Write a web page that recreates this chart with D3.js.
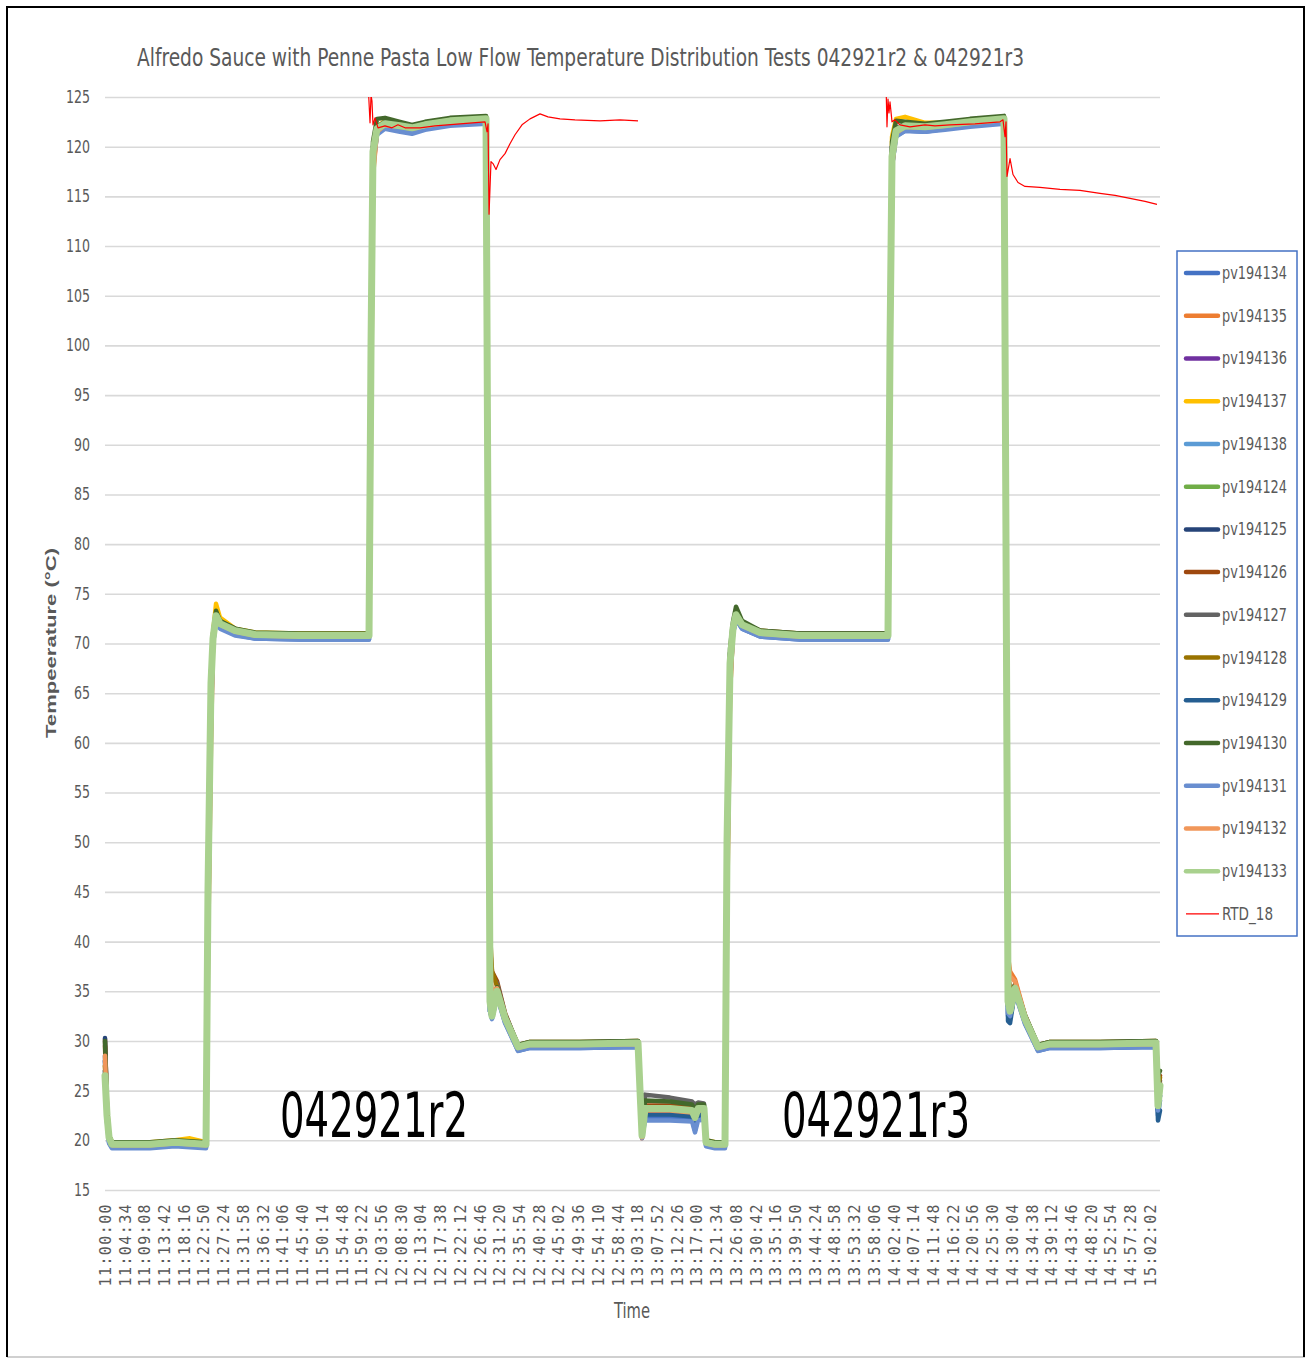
<!DOCTYPE html>
<html>
<head>
<meta charset="utf-8">
<script src="https://cdn.jsdelivr.net/npm/d3@7"></script>
<style>
  body { margin: 0; background: #fff; }
  svg { display: block; }
</style>
</head>
<body>
<svg id="chart" width="1307" height="1359"></svg>
<script>
// ---------------- DATA ----------------
const chartTitle = "Alfredo Sauce with Penne Pasta Low Flow Temperature Distribution Tests 042921r2 & 042921r3";
const yTickValues = [15,20,25,30,35,40,45,50,55,60,65,70,75,80,85,90,95,100,105,110,115,120,125];
const xTickLabels = ["11:00:00","11:04:34","11:09:08","11:13:42","11:18:16","11:22:50","11:27:24","11:31:58","11:36:32","11:41:06","11:45:40","11:50:14","11:54:48","11:59:22","12:03:56","12:08:30","12:13:04","12:17:38","12:22:12","12:26:46","12:31:20","12:35:54","12:40:28","12:45:02","12:49:36","12:54:10","12:58:44","13:03:18","13:07:52","13:12:26","13:17:00","13:21:34","13:26:08","13:30:42","13:35:16","13:39:50","13:44:24","13:48:58","13:53:32","13:58:06","14:02:40","14:07:14","14:11:48","14:16:22","14:20:56","14:25:30","14:30:04","14:34:38","14:39:12","14:43:46","14:48:20","14:52:54","14:57:28","15:02:02"];
const xStart = "11:00:00";
const xEnd = "15:04:21";

const times = ["11:00:00","11:00:28","11:00:56","11:01:37","11:04:38","11:10:25","11:16:13","11:19:41","11:23:24","11:23:51",
"11:24:33","11:25:01","11:25:43","11:26:38","11:30:07","11:34:45","11:45:10","11:54:26","12:01:09","12:01:37",
"12:02:04","12:03:00","12:04:51","12:08:20","12:11:06","12:14:07","12:19:54","12:28:15","12:28:43","12:29:10",
"12:29:38","12:30:48","12:32:39","12:35:40","12:38:26","12:50:01","13:03:27","13:03:55","13:04:23","13:05:04",
"13:10:52","13:15:58","13:16:39","13:17:21","13:18:44","13:19:12","13:21:17","13:23:36","13:24:04","13:24:46",
"13:25:27","13:26:09","13:27:32","13:31:42","13:40:58","13:52:33","14:01:21","14:01:49","14:02:17","14:03:13",
"14:05:18","14:09:56","14:14:33","14:20:21","14:28:13","14:28:41","14:29:09","14:29:37","14:30:46","14:33:05",
"14:36:06","14:38:53","14:50:28","15:03:25","15:03:53","15:04:21"];

const seriesNames = ["pv194134","pv194135","pv194136","pv194137","pv194138","pv194124","pv194125","pv194126","pv194127","pv194128","pv194129","pv194130","pv194131","pv194132","pv194133"];
const seriesColors = ["#4472C4","#ED7D31","#7030A0","#FFC000","#5B9BD5","#70AD47","#264478","#9E480E","#636363","#997300","#255E91","#43682B","#698ED0","#F1975A","#A9D18E"];

const pv194134 = [28.0,22.0,19.8,19.3,19.3,19.3,19.5,19.4,19.3,40,
62,70.0,72.3,71.6,70.9,70.5,70.4,70.4,70.4,95,
118.5,121.3,121.9,121.6,121.4,121.8,122.2,122.4,75,33.0,
32.3,34.6,31.9,29.0,29.3,29.3,29.4,24,20.3,22.3,
22.3,22.1,21.0,22.3,22.4,19.5,19.3,19.3,45,66,
71.0,72.5,71.5,70.7,70.4,70.4,70.4,95,118,121.1,
121.6,121.5,121.8,122.1,122.4,75,32.5,32.3,34.9,31.8,
29.0,29.3,29.3,29.4,22.5,24.0];
const pv194135 = [30.2,23.5,20.5,19.7,19.6,19.7,19.9,19.8,19.6,38,
60,70.2,72.9,72.1,71.3,70.9,70.8,70.8,70.8,92,
117,121.6,122.3,122.2,122.0,122.3,122.7,122.9,88,36,
34,35.4,32.6,29.5,29.8,29.8,29.9,26,20.2,22.9,
22.9,22.7,22.0,22.9,22.9,19.9,19.6,19.6,42,65,
71.2,72.9,72.0,71.1,70.8,70.8,70.8,94,118,121.5,
122.1,122.0,122.3,122.6,122.9,86,38.5,37,36.2,32.6,
29.5,29.8,29.8,29.9,24.5,25.8];
const pv194136 = [27.0,22.6,20.4,19.7,19.7,19.7,19.9,19.8,19.7,44,
65,70.6,72.9,72.1,71.4,71.0,70.9,70.9,70.9,99,
119.5,121.9,122.4,122.2,122.0,122.3,122.7,122.9,80,35,
33.5,35.1,32.4,29.5,29.8,29.8,29.9,25,20.5,23.3,
23.3,23.1,22.4,23.3,23.3,19.9,19.7,19.7,50,68,
71.6,73.0,72.0,71.2,70.9,70.9,70.9,99,119,121.7,
122.2,122.1,122.3,122.6,122.9,80,35,34,35.4,32.3,
29.5,29.8,29.8,29.9,24.0,25.4];
const pv194137 = [27.5,22.8,20.5,19.8,19.8,19.8,20.0,20.2,19.8,44,
66,71.0,74.0,72.6,71.5,71.1,71.0,71.0,71.0,101,
120,122.0,122.6,122.3,122.1,122.4,122.8,123.0,80,35,
33.5,35.2,32.5,29.6,29.9,29.9,30.0,25,20.6,23.4,
23.4,23.2,22.5,23.4,23.4,20.0,19.8,19.8,52,69,
71.8,73.3,72.1,71.3,71.0,71.0,71.0,102,121,122.8,
123.0,122.4,122.4,122.7,123.0,80,35,34,35.5,32.4,
29.6,29.9,29.9,30.0,24.5,25.6];
const pv194138 = [27.0,22.3,20.1,19.4,19.4,19.4,19.6,19.5,19.4,43,
64,70.3,72.6,71.8,71.1,70.7,70.6,70.6,70.6,98,
119,121.5,122.1,121.8,121.6,121.9,122.3,122.5,78,34,
33,34.8,32.1,29.2,29.5,29.5,29.6,24.5,20.4,22.8,
22.8,22.6,21.8,22.8,22.8,19.6,19.4,19.4,48,67,
71.3,72.7,71.7,70.9,70.6,70.6,70.6,98,118.5,121.3,
121.8,121.7,121.9,122.2,122.5,78,34,33,35.1,32.0,
29.2,29.5,29.5,29.6,23.5,25.0];
const pv194124 = [27.0,22.6,20.4,19.7,19.7,19.7,19.9,19.8,19.7,45,
66,70.6,72.9,72.1,71.4,71.0,70.9,70.9,70.9,100,
119.8,122.0,122.5,122.3,122.1,122.4,122.8,123.0,80,35,
33.5,35.1,32.4,29.5,29.8,29.8,29.9,25,20.5,23.3,
23.3,23.1,22.4,23.3,23.3,19.9,19.7,19.7,50,68,
71.6,73.0,72.0,71.2,70.9,70.9,70.9,100,119.5,121.8,
122.3,122.2,122.4,122.7,123.0,80,35,34,35.4,32.3,
29.5,29.8,29.8,29.9,24.0,25.5];
const pv194125 = [30.3,23.0,20.4,19.6,19.6,19.6,19.8,19.7,19.6,46,
67,70.5,72.8,72.0,71.3,70.9,70.8,70.8,70.8,101,
120,121.9,122.4,122.2,122.0,122.3,122.7,122.9,82,34,
33,35.0,32.3,29.4,29.7,29.7,29.8,25,20.5,23.0,
23.0,22.8,22.0,23.0,23.0,19.8,19.6,19.6,52,69,
71.6,73.0,72.0,71.1,70.8,70.8,70.8,101,120,121.8,
122.2,122.1,122.3,122.6,122.9,82,33.5,33,35.2,32.2,
29.4,29.7,29.7,29.8,23.0,24.5];
const pv194126 = [29.5,23.0,20.5,19.7,19.7,19.7,19.9,19.8,19.7,44,
65,70.6,72.9,72.1,71.4,71.0,70.9,70.9,70.9,98,
119,121.9,122.4,122.2,122.0,122.3,122.7,122.9,86,39.5,
37,36.0,32.8,29.5,29.8,29.8,29.9,25,20.6,23.5,
23.5,23.3,22.6,23.4,23.4,19.9,19.7,19.7,49,67,
71.6,73.0,72.0,71.2,70.9,70.9,70.9,99,119,121.8,
122.2,122.1,122.3,122.6,122.9,84,37,35,35.6,32.5,
29.5,29.8,29.8,29.9,26.0,26.5];
const pv194127 = [28.0,22.8,20.4,19.7,19.7,19.7,19.9,19.8,19.7,45,
66,70.7,73.0,72.2,71.5,71.0,70.9,70.9,70.9,100,
119.5,122.0,122.5,122.3,122.1,122.4,122.8,123.0,84,38.5,
36.5,35.8,32.7,29.6,29.9,29.9,30.0,26,20.8,24.6,
24.3,23.9,23.6,23.8,23.7,20.0,19.7,19.7,50,68,
71.6,73.1,72.1,71.3,71.0,71.0,71.0,100,119.5,121.8,
122.3,122.2,122.4,122.7,123.0,82,36,34.5,35.6,32.5,
29.6,29.9,29.9,30.0,25.0,26.0];
const pv194128 = [27.5,22.6,20.4,19.6,19.6,19.6,19.8,19.7,19.6,44,
65,70.5,72.8,72.0,71.3,70.9,70.8,70.8,70.8,99,
119,121.8,122.3,122.1,121.9,122.2,122.6,122.8,88,41,
37,35.5,32.6,29.4,29.7,29.7,29.8,25.5,20.6,23.3,
23.3,23.1,22.4,23.2,23.2,19.8,19.6,19.6,49,67,
71.5,72.9,71.9,71.1,70.8,70.8,70.8,99,119,121.6,
122.1,122.0,122.2,122.5,122.8,82,36.5,35,35.5,32.4,
29.4,29.7,29.7,29.8,25.5,26.3];
const pv194129 = [28.5,22.4,20.2,19.5,19.5,19.5,19.7,19.6,19.5,46,
67,70.4,72.7,71.9,71.2,70.8,70.7,70.7,70.7,101,
120,121.7,122.2,122.0,121.8,122.1,122.5,122.7,78,33,
32.5,34.9,32.2,29.3,29.6,29.6,29.7,24.5,20.4,22.6,
22.6,22.4,21.2,22.6,22.6,19.7,19.5,19.5,52,69,
71.4,72.8,71.8,71.0,70.7,70.7,70.7,101,120,121.5,
122.0,121.9,122.1,122.4,122.7,78,32,31.8,35.0,32.1,
29.3,29.6,29.6,29.7,22.0,23.0];
const pv194130 = [30.0,23.2,20.5,19.8,19.8,19.8,20.0,19.9,19.8,46,
67,71.0,73.3,72.3,71.5,71.1,71.0,71.0,71.0,101,
120.5,122.8,122.9,122.5,122.2,122.5,122.9,123.1,82,36,
34.5,35.4,32.6,29.6,29.9,29.9,30.0,25.5,20.8,24.0,
23.9,23.6,23.0,23.6,23.6,20.0,19.8,19.8,52,69.5,
72.2,73.7,72.3,71.3,71.0,71.0,71.0,101,120.5,122.6,
122.5,122.3,122.5,122.8,123.1,82,35.5,34,35.7,32.6,
29.6,29.9,29.9,30.0,26.5,27.0];
const pv194131 = [26.0,21.8,19.7,19.2,19.2,19.2,19.4,19.3,19.2,42,
63,69.9,72.3,71.5,70.8,70.5,70.4,70.4,70.4,96,
118,121.2,121.8,121.5,121.3,121.7,122.1,122.3,76,33,
32.2,34.5,31.8,29.0,29.3,29.3,29.4,24.5,20.2,22.0,
22.0,21.9,20.8,22.0,22.1,19.4,19.2,19.2,46,66,
71.0,72.4,71.5,70.7,70.4,70.4,70.4,96,118,121.0,
121.6,121.5,121.7,122.0,122.3,76,32.8,32.5,34.8,31.7,
29.0,29.3,29.3,29.4,23.0,24.5];
const pv194132 = [28.5,22.6,20.3,19.5,19.5,19.5,19.7,19.6,19.5,40,
62,70.3,72.7,71.9,71.2,70.8,70.7,70.7,70.7,95,
117.5,121.5,122.2,122.0,121.8,122.1,122.5,122.7,90,37,
35,35.3,32.5,29.3,29.6,29.6,29.7,26,20.3,23.0,
23.0,22.8,22.2,23.0,23.0,19.7,19.5,19.5,44,65,
71.3,72.8,71.8,71.0,70.7,70.7,70.7,95,118,121.4,
122.0,121.9,122.1,122.4,122.7,88,38,36.5,36.0,32.5,
29.3,29.6,29.6,29.7,24.0,25.0];
const pv194133 = [26.5,22.5,20.3,19.6,19.6,19.6,19.8,19.7,19.6,45,
66,70.5,72.8,72.0,71.3,70.9,70.8,70.8,70.8,100,
119.5,121.8,122.3,122.1,121.9,122.2,122.6,122.8,80,34,
32.5,35.0,32.3,29.4,29.7,29.7,29.8,25,20.5,23.2,
23.2,23.0,22.3,23.2,23.2,19.8,19.6,19.6,50,68,
71.5,72.9,71.9,71.1,70.8,70.8,70.8,100,119,121.6,
122.1,122.0,122.2,122.5,122.8,80,34,33.0,35.3,32.2,
29.4,29.7,29.7,29.8,23.5,25.5];

const rtdName = "RTD_18";
const rtdColor = "#FF0000";
const rtdTimes = ["12:00:55","12:01:23","12:01:37","12:01:50","12:02:04","12:02:32","12:03:14","12:04:51","12:06:28","12:07:51",
"12:09:29","12:12:58","12:16:26","12:22:14","12:28:01","12:28:29","12:28:43","12:28:57","12:29:24","12:29:52",
"12:30:34","12:31:29","12:32:39","12:33:48","12:34:58","12:36:35","12:38:26","12:40:45","12:42:36","12:45:23",
"12:48:51","12:54:39","12:59:17","13:03:27","13:03:28",
"14:00:53","14:01:07","14:01:21","14:01:35","14:01:49","14:02:17","14:02:58","14:04:08","14:06:27","14:09:56",
"14:12:14","14:15:43","14:21:30","14:27:18","14:27:59","14:28:27","14:28:41","14:28:55","14:29:37","14:30:18",
"14:31:28","14:33:05","14:36:33","14:41:11","14:45:49","14:50:27","14:53:56","14:57:24","15:00:53","15:03:39"];
const rtdValues = [126.5,122.4,125.2,124.6,122.2,122.9,121.9,122.1,121.9,122.2,
121.9,121.9,122.1,122.3,122.5,121.5,122.3,113.2,118.5,118.3,
117.7,118.7,119.3,120.3,121.2,122.2,122.8,123.3,123.0,122.8,
122.7,122.6,122.7,122.6,null,
126.5,122.0,124.8,123.4,124.5,122.5,122.7,122.2,122.0,122.2,
122.1,122.2,122.3,122.5,122.7,121.0,122.5,117.0,118.8,117.2,
116.4,116.0,115.9,115.7,115.6,115.3,115.1,114.8,114.5,114.2];

const annotations = ["042921r2", "042921r3"];
const annotationTimes = ["11:40:32", "13:36:48"];

// ---------------- CHART ----------------
const svg = d3.select("#chart");
const W = 1307, H = 1359;
const plot = { left: 105, right: 1160, top: 97, bottom: 1190 };
const parse = d3.timeParse("%H:%M:%S");
const fmt = d3.timeFormat("%H:%M:%S");

const x = d3.scaleTime().domain([parse(xStart), parse(xEnd)]).range([plot.left, plot.right]);
const y = d3.scaleLinear().domain([15, 125]).range([plot.bottom, plot.top]);

const narrow = "'Liberation Sans Narrow', 'DejaVu Sans Condensed', 'Roboto Condensed', sans-serif";
const grayText = "#595959";

// background + frame
svg.append("rect").attr("width", W).attr("height", H).attr("fill", "#fff");
svg.append("line").attr("x1", 7).attr("y1", 1357).attr("x2", 1305).attr("y2", 1357).attr("stroke", "#d0d0d0").attr("stroke-width", 2);
svg.append("path").attr("d", "M7,1357 V7 H1304 V1357").attr("fill", "none").attr("stroke", "#000").attr("stroke-width", 2);

// title
svg.append("text").attr("x", 137).attr("y", 66)
  .attr("textLength", 887).attr("lengthAdjust", "spacingAndGlyphs")
  .style("font-family", narrow).style("font-size", "25px").attr("fill", grayText)
  .text(chartTitle);

// grid + y axis
const yAxis = d3.axisLeft(y).tickValues(yTickValues).tickSize(-(plot.right - plot.left)).tickPadding(15).tickFormat(d3.format("d"));
const gy = svg.append("g").attr("transform", `translate(${plot.left},0)`).call(yAxis);
gy.select(".domain").remove();
gy.selectAll(".tick line").attr("stroke", "#D9D9D9").attr("stroke-width", 1.6);
gy.selectAll(".tick text").style("font-family", narrow).style("font-size", "17px").attr("fill", grayText)
  .attr("textLength", d => String(d).length * 8).attr("lengthAdjust", "spacingAndGlyphs");

// x axis
const xAxis = d3.axisBottom(x).tickValues(xTickLabels.map(parse)).tickSize(0).tickFormat(fmt);
const gx = svg.append("g").attr("transform", `translate(0,${plot.bottom})`).call(xAxis);
gx.select(".domain").remove();
gx.selectAll(".tick text")
  .attr("transform", "rotate(-90)")
  .attr("x", -13).attr("y", 0).attr("dy", "0.36em")
  .attr("text-anchor", "end")
  .style("font-family", "'DejaVu Sans Mono', monospace").style("font-size", "15px")
  .style("letter-spacing", "1.4px")
  .attr("fill", grayText);

// axis titles
svg.append("text").attr("x", 632).attr("y", 1318).attr("text-anchor", "middle")
  .attr("textLength", 36).attr("lengthAdjust", "spacingAndGlyphs")
  .style("font-family", narrow).style("font-size", "21px").attr("fill", grayText).text("Time");
svg.append("text").attr("transform", "translate(56,643) rotate(-90)").attr("text-anchor", "middle")
  .attr("textLength", 190).attr("lengthAdjust", "spacingAndGlyphs")
  .style("font-family", "'Liberation Sans', Arial, sans-serif").style("font-size", "15px").style("font-weight", "bold")
  .attr("fill", grayText).text("Tempeerature (°C)");

// clip
svg.append("clipPath").attr("id", "clip").append("rect")
  .attr("x", plot.left - 4).attr("y", plot.top).attr("width", plot.right - plot.left + 8).attr("height", plot.bottom - plot.top);

const seriesData = [pv194134, pv194135, pv194136, pv194137, pv194138, pv194124, pv194125, pv194126, pv194127, pv194128, pv194129, pv194130, pv194131, pv194132, pv194133];
const tParsed = times.map(parse);
const line = d3.line().x(d => x(d[0])).y(d => y(d[1])).defined(d => d[1] != null);

const gLines = svg.append("g").attr("clip-path", "url(#clip)");
seriesData.forEach((vals, i) => {
  gLines.append("path")
    .datum(vals.map((v, j) => [tParsed[j], v]))
    .attr("d", line)
    .attr("fill", "none")
    .attr("stroke", seriesColors[i])
    .attr("stroke-width", seriesNames[i] === "pv194133" ? 7 : 4.5)
    .attr("stroke-linejoin", "round")
    .attr("stroke-linecap", "round");
});
gLines.append("path")
  .datum(rtdValues.map((v, j) => [parse(rtdTimes[j]), v]))
  .attr("d", line)
  .attr("fill", "none")
  .attr("stroke", rtdColor)
  .attr("stroke-width", 1.2)
  .attr("stroke-linejoin", "round");

// annotations
annotations.forEach((a, i) => {
  svg.append("text").attr("x", x(parse(annotationTimes[i]))).attr("y", 1137)
    .attr("textLength", 188).attr("lengthAdjust", "spacingAndGlyphs")
    .style("font-family", narrow).style("font-size", "62px").attr("fill", "#000").text(a);
});

// legend
const legend = svg.append("g");
legend.append("rect").attr("x", 1177).attr("y", 251).attr("width", 120).attr("height", 685)
  .attr("fill", "#fff").attr("stroke", "#4472C4").attr("stroke-width", 1.5);
const legendNames = seriesNames.concat([rtdName]);
const legendColors = seriesColors.concat([rtdColor]);
legendNames.forEach((n, i) => {
  const yy = 273 + i * 42.73;
  const isRtd = n === rtdName;
  legend.append("line")
    .attr("x1", 1186).attr("x2", isRtd ? 1219 : 1218)
    .attr("y1", yy).attr("y2", yy)
    .attr("stroke", legendColors[i]).attr("stroke-width", isRtd ? 1.2 : 4.5)
    .attr("stroke-linecap", isRtd ? "butt" : "round");
  legend.append("text").attr("x", 1222).attr("y", yy).attr("dy", "0.35em")
    .attr("textLength", isRtd ? 51 : 65).attr("lengthAdjust", "spacingAndGlyphs")
    .style("font-family", narrow).style("font-size", "17px").attr("fill", grayText).text(n);
});
</script>
</body>
</html>
